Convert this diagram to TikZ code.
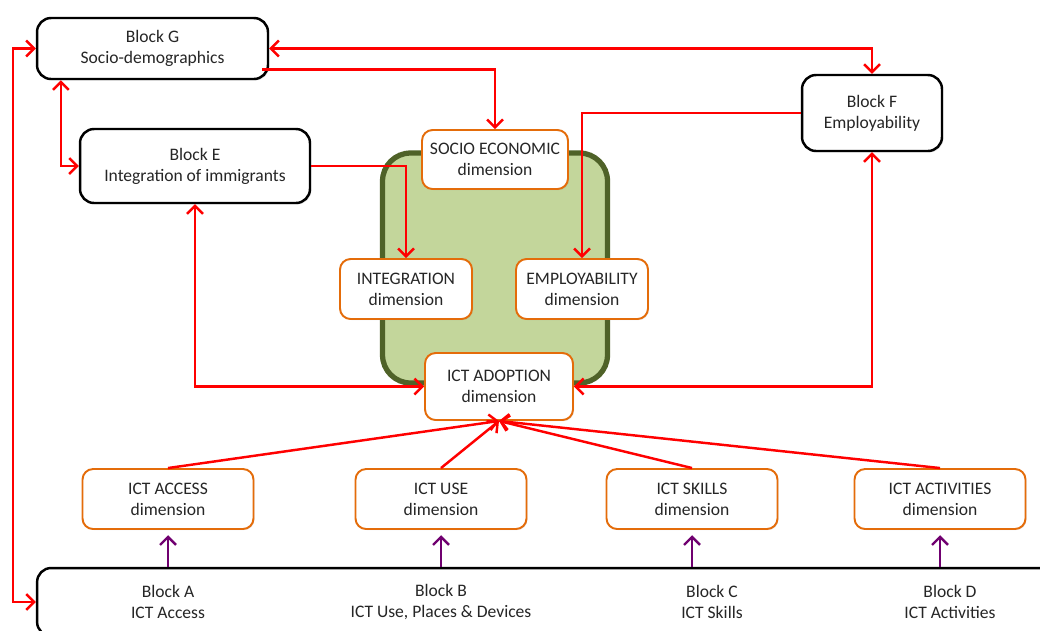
\documentclass[tikz,border=0pt]{standalone}
\usepackage{fontspec}
\setmainfont{Carlito}
\usetikzlibrary{arrows.meta,shadows}
\definecolor{linkred}{RGB}{255,0,0}
\definecolor{dimorange}{RGB}{228,108,10}
\definecolor{corefill}{RGB}{195,214,155}
\definecolor{coreline}{RGB}{79,98,40}
\definecolor{feedpurple}{RGB}{112,0,112}

\begin{document}
\begin{tikzpicture}[x=0.02cm, y=-0.02cm,
    font=\fontsize{10}{12}\selectfont, text=black!85,
    >={Straight Barb[length=4.5pt,width=9pt]},
    block/.style={draw=black, line width=1.4pt, rounded corners=8pt, fill=white,
      align=center, inner sep=0pt,
      drop shadow={opacity=0.25, shadow xshift=0.8pt, shadow yshift=-0.8pt}},
    dimbox/.style={draw=dimorange, line width=1.1pt, rounded corners=6pt, fill=white,
      align=center, inner sep=0pt,
      drop shadow={opacity=0.2, shadow xshift=0.6pt, shadow yshift=-0.6pt}},
    corebox/.style={draw=coreline, line width=3pt, rounded corners=0.56cm, fill=corefill},
    blocktext/.style={align=center},
    link/.style={draw=linkred, line width=1.4pt},
    feed/.style={draw=feedpurple, line width=1.4pt}]
  \clip (0,0) rectangle (1040,630);

  % green core region
  \node[corebox, minimum width=4.5cm, minimum height=4.6cm] (core) at (495,268) {};

  % outcome blocks
  \node[block, minimum width=4.62cm, minimum height=1.22cm] (gblock) at (152.5,48.5) {Block G\\Socio-demographics};
  \node[block, minimum width=4.6cm, minimum height=1.48cm] (eblock) at (195,166) {Block E\\Integration of immigrants};
  \node[block, minimum width=2.8cm, minimum height=1.52cm] (fblock) at (872,113) {Block F\\Employability};

  % dimensions inside the core
  \node[dimbox, minimum width=2.92cm, minimum height=1.18cm] (socio) at (495,159.5) {SOCIO ECONOMIC\\dimension};
  \node[dimbox, minimum width=2.64cm, minimum height=1.2cm] (integ) at (406,289) {INTEGRATION\\dimension};
  \node[dimbox, minimum width=2.64cm, minimum height=1.2cm] (employ) at (582,289) {EMPLOYABILITY\\dimension};
  \node[dimbox, minimum width=2.96cm, minimum height=1.34cm] (adopt) at (499,386.5) {ICT ADOPTION\\dimension};

  % ICT dimensions
  \foreach \name/\x/\txt in {access/168/ACCESS, use/441/USE, skills/692/SKILLS, activ/940/ACTIVITIES}
    \node[dimbox, minimum width=3.42cm, minimum height=1.2cm] (\name) at (\x,499) {ICT \txt\\dimension};

  % base block
  \node[block, minimum width=20.66cm, minimum height=1.36cm] (base) at (553.5,602) {};
  \foreach \l/\x/\txt in {A/168/{ICT Access}, B/441/{ICT Use, Places \& Devices},
      C/712/{ICT Skills}, D/950/{ICT Activities}}
    \node[blocktext] (blk\l) at (\x,602) {Block \l\\\txt};

  % connectors
  \foreach \name in {access,use,skills,activ} {
    \draw[link,->] (\name.north) -- (adopt.south);
    \draw[feed,->] (\name.south |- base.north) -- ([yshift=-3pt]\name.south);
  }
  \coordinate (rail) at (13,0);
  \draw[link,<->] (gblock.west) -- (gblock.west -| rail) |- (base.west);
  \draw[link,<->] (gblock.east) -| (fblock.north);
  \draw[link,->] ([xshift=-4pt,yshift=-12pt]gblock.east) -| (socio.north);
  \draw[link,<->] ([xshift=0.5cm]gblock.south west) |- (eblock.west);
  \draw[link,->] (eblock.east) -| (integ.north);
  \draw[link,->] (fblock.west) -| (employ.north);
  \draw[link,<->] (eblock.south) |- (adopt.west);
  \draw[link,<->] (fblock.south) |- (adopt.east);
\end{tikzpicture}
\end{document}
